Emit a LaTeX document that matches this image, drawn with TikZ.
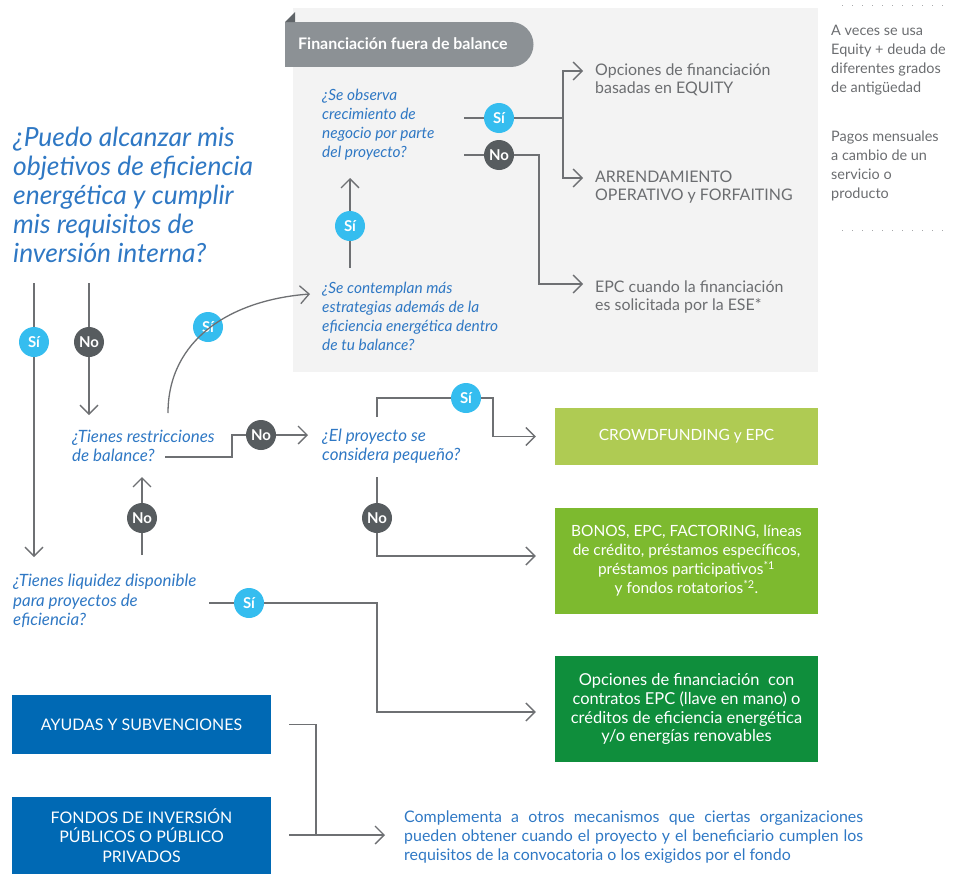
\documentclass[tikz,border=0pt]{standalone}
\usepackage{fontspec}
\setmainfont{Lato}
\usetikzlibrary{arrows.meta,calc}
\definecolor{qblue}{HTML}{2F78C4}
\definecolor{siblue}{HTML}{35BDEF}
\definecolor{nogray}{HTML}{575C5F}
\definecolor{linegray}{HTML}{6E7073}
\definecolor{txtgray}{HTML}{6B6D70}
\definecolor{panelgray}{HTML}{F3F3F3}
\definecolor{tabgray}{HTML}{8C9195}
\definecolor{foldgray}{HTML}{5F6468}
\definecolor{greenA}{HTML}{AFCB53}
\definecolor{greenB}{HTML}{7DBA2F}
\definecolor{greenC}{HTML}{0F8E3C}
\definecolor{boxblue}{HTML}{0069B4}
\tikzset{
  ln/.style={draw=linegray,line width=1.3bp},
  arr/.style={ln,-{Straight Barb[length=9bp,width=18bp,line width=1.3bp]}},
  sibadge/.style={circle,fill=siblue,text=white,inner sep=0pt,minimum size=30bp,
    font=\fontsize{15}{15}\selectfont\bfseries},
  nobadge/.style={sibadge,fill=nogray},
  quest/.style={anchor=west,align=left,inner sep=0pt,text=qblue,
    font=\fontsize{15.5}{19}\selectfont\itshape},
  bigquest/.style={quest,font=\fontsize{17}{19.5}\selectfont\itshape},
  gtext/.style={anchor=west,align=left,inner sep=0pt,text=txtgray,
    font=\fontsize{16}{18.5}\selectfont},
  sidenote/.style={gtext,font=\fontsize{14.5}{19}\selectfont},
  gbox/.style={minimum width=263bp,align=center,text=white,inner sep=0pt,
    font=\fontsize{15.5}{19}\selectfont},
  bbox/.style={gbox,fill=boxblue,minimum width=259bp,font=\fontsize{16}{19.5}\selectfont},
  dots/.style={draw=linegray!60,line width=1bp,dash pattern=on 1bp off 9bp}
}
\begin{document}
\begin{tikzpicture}[x=1bp,y=-1bp]
\useasboundingbox (0,0) rectangle (954,874);
\fill[panelgray] (293,8) rectangle (818,372);
\fill[tabgray] (285,22) rectangle (511,67);
\fill[tabgray] (511,44.5) circle (22.5);
\fill[foldgray] (285,22) -- (295,12) -- (295,22) -- cycle;
\node[anchor=west,inner sep=0pt,text=white,font=\fontsize{16}{16}\selectfont\bfseries]
  (tab) at (298,44) {Financiación fuera de balance};
\draw[dots] (842,5) -- (944,5) (842,230) -- (944,230);

\node[quest,font=\fontsize{26.5}{29}\selectfont\itshape] (q0) at (13,195)
  {¿Puedo alcanzar mis\\objetivos de eficiencia\\energética y cumplir\\mis requisitos de\\inversión interna?};
\node[quest] (q1) at (322,125) {¿Se observa\\crecimiento de\\negocio por parte\\del proyecto?};
\node[quest] (q2) at (322,316) {¿Se contemplan más\\estrategias además de la\\eficiencia energética dentro\\de tu balance?};
\node[bigquest] (q3) at (72,446) {¿Tienes restricciones\\de balance?};
\node[bigquest] (q4) at (322,446) {¿El proyecto se\\considera pequeño?};
\node[bigquest] (q5) at (13,601) {¿Tienes liquidez disponible\\para proyectos de\\eficiencia?};

\node[gtext] (o1) at (595,80) {Opciones de financiación\\basadas en EQUITY};
\node[gtext] (o2) at (595,187) {ARRENDAMIENTO\\OPERATIVO y FORFAITING};
\node[gtext] (o3) at (595,297) {EPC cuando la financiación\\es solicitada por la ESE*};
\node[sidenote] (nt1) at (831,60) {A veces se usa\\Equity + deuda de\\diferentes grados\\de antigüedad};
\node[sidenote] (nt2) at (831,166) {Pagos mensuales\\a cambio de un\\servicio o\\producto};

\node[gbox,fill=greenA,minimum height=57bp] (g1) at (686.5,436.5) {CROWDFUNDING y EPC};
\node[gbox,fill=greenB,minimum height=106bp] (g2) at (686.5,561)
  {BONOS, EPC, FACTORING, líneas\\de crédito, préstamos específicos,\\préstamos participativos\textsuperscript{*1}\\y fondos rotatorios\textsuperscript{*2}.};
\node[gbox,fill=greenC,minimum height=106bp,font=\fontsize{16.5}{19}\selectfont] (g3) at (686.5,709)
  {Opciones de financiación~ con\\contratos EPC (llave en mano) o\\créditos de eficiencia energética\\y/o energías renovables};
\node[bbox,minimum height=59bp] (b1) at (141.5,724.5) {AYUDAS Y SUBVENCIONES};
\node[bbox,minimum height=77bp] (b2) at (141.5,835.5) {FONDOS DE INVERSIÓN\\PÚBLICOS O PÚBLICO\\PRIVADOS};
\node[anchor=west,inner sep=0pt,text width=459bp,align=justify,text=qblue,
  font=\fontsize{16}{19}\selectfont] (cmp) at (404,837)
  {Complementa a otros mecanismos que ciertas organizaciones\linebreak
   pueden obtener cuando el proyecto y el beneficiario cumplen los\linebreak
   requisitos de la convocatoria o los exigidos por el fondo};

\node[sibadge] (s1) at (499,118) {Sí};
\node[nobadge] (n1) at (499,155) {No};
\node[sibadge] (s2) at (350,226) {Sí};
\node[sibadge] (sL) at (34,342) {Sí};
\node[nobadge] (nL) at (89,342) {No};
\node[sibadge] (s4) at (208,327) {Sí};
\node[nobadge] (n2) at (261,435) {No};
\node[sibadge] (s3) at (466,398) {Sí};
\node[nobadge] (n3) at (377,518) {No};
\node[nobadge] (n4) at (142,518) {No};
\node[sibadge] (s6) at (249,603) {Sí};

\coordinate (c0) at (168,413);
\coordinate (j1) at (316,835);
\draw[ln] (s1) -- ++(-35,0) (n1) -- ++(-35,0);
\draw[ln] (s1) -- ++(64,0) coordinate (f1);
\draw[arr] (f1) |- ([shift={(-12,-9)}]o1.west);
\draw[arr] (f1) |- ([shift={(-12,-9)}]o2.west);
\draw[arr] (n1) -- ++(40,0) |- ([shift={(-12,-13)}]o3.west);
\draw[ln] (s2) -- ++(0,42);
\draw[arr] (s2) -- ++(0,-48);
\draw[ln] (sL) -- ++(0,-59) (nL) -- ++(0,-59);
\draw[arr] (sL) -- ++(0,215);
\draw[arr] (nL) -- ++(0,73);
\draw[arr] (c0) .. controls (168,340) and (230,300) .. ([shift={(-12,-22)}]q2.west);
\draw[ln] (165,457) -- ++(67,0) |- (n2);
\draw[arr] (n2) -- ([shift={(-14,-11)}]q4.west);
\draw[ln] (377,417) |- (s3);
\draw[arr] (s3) -- ++(27,0) |- ([xshift=-19bp]g1.west);
\draw[ln] (377,477) -- (n3);
\draw[arr] (n3) |- ([shift={(-19,-5)}]g2.west);
\draw[ln] (142,555) -- (n4);
\draw[arr] (n4) -- ++(0,-41);
\draw[ln] (209,603) -- (s6);
\draw[arr] (s6) -- ++(128,0) |- ([shift={(-19,3)}]g3.west);
\draw[ln] ([xshift=18bp]b1.east) -| (j1) -- ([xshift=18bp]b2.east |- j1);
\draw[arr] (j1) -- ([xshift=-19bp]cmp.west |- j1);
\end{tikzpicture}
\end{document}
